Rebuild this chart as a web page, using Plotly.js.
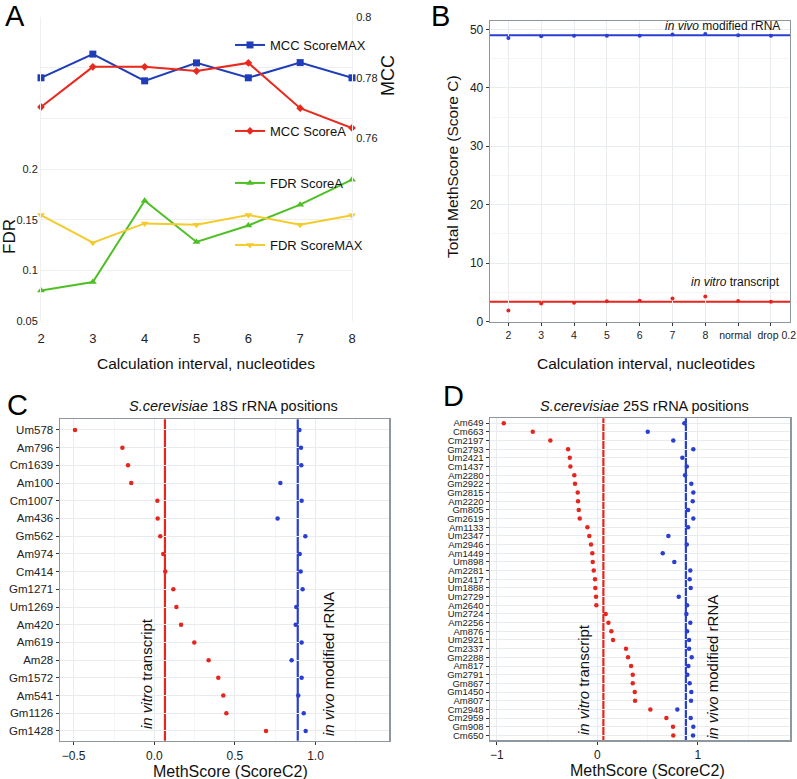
<!DOCTYPE html>
<html>
<head>
<meta charset="utf-8">
<script src="https://cdn.plot.ly/plotly-3.0.1.min.js"></script>
<style>
  html, body { margin: 0; padding: 0; background: #fff; }
  #chart { width: 797px; height: 779px; }
</style>
</head>
<body>
<div id="chart"></div>
<script>
// Panel A: interval sweep
const aIntervals = [2, 3, 4, 5, 6, 7, 8];
const mccScoreMax = [0.780, 0.7878, 0.779, 0.7849, 0.780, 0.785, 0.780];
const mccScoreA = [0.7704, 0.7836, 0.7836, 0.7822, 0.7849, 0.770, 0.7635];
const fdrScoreA = [0.080, 0.0885, 0.1687, 0.128, 0.1443, 0.1648, 0.1894];
const fdrScoreMax = [0.1546, 0.1273, 0.1463, 0.145, 0.1546, 0.145, 0.1543];

// Panel B: total MethScore
const bCategories = ["2", "3", "4", "5", "6", "7", "8", "normal", "drop 0.2"];
const bTickText = ["2", "3", "4", "5", "6", "7", "8", "normal\u00a0\u00a0", "\u00a0\u00a0\u00a0\u00a0drop 0.2"];
const bInVivo = [48.5, 48.8, 48.9, 48.9, 48.9, 49.1, 49.2, 49.0, 48.9];
const bInVitro = [1.9, 3.1, 3.25, 3.5, 3.6, 3.95, 4.3, 3.55, 3.4];
const bInVivoLevel = 49.0;
const bInVitroLevel = 3.42;

// Panel C: 18S rRNA positions
const cPositions = ["Um578", "Am796", "Cm1639", "Am100", "Cm1007", "Am436", "Gm562",
  "Am974", "Cm414", "Gm1271", "Um1269", "Am420", "Am619", "Am28", "Gm1572",
  "Am541", "Gm1126", "Gm1428"];
const cInVitro = [-0.492, -0.198, -0.163, -0.143, 0.019, 0.021, 0.037, 0.056, 0.068,
  0.118, 0.137, 0.166, 0.248, 0.337, 0.397, 0.428, 0.447, 0.693];
const cInVivo = [0.90, 0.91, 0.912, 0.782, 0.914, 0.765, 0.937, 0.902, 0.908,
  0.92, 0.881, 0.877, 0.914, 0.852, 0.914, 0.893, 0.927, 0.939];
const cInVitroLevel = 0.066;
const cInVivoLevel = 0.89;

// Panel D: 25S rRNA positions
const dPositions = ["Am649", "Cm663", "Cm2197", "Gm2793", "Um2421", "Cm1437", "Am2280",
  "Gm2922", "Gm2815", "Am2220", "Gm805", "Gm2619", "Am1133", "Um2347", "Am2946",
  "Am1449", "Um898", "Am2281", "Um2417", "Um1888", "Um2729", "Am2640", "Um2724",
  "Am2256", "Am876", "Um2921", "Cm2337", "Gm2288", "Am817", "Gm2791", "Gm867",
  "Gm1450", "Am807", "Cm2948", "Cm2959", "Gm908", "Cm650"];
const dInVitro = [-0.93, -0.642, -0.467, -0.291, -0.274, -0.268, -0.229, -0.222, -0.195,
  -0.192, -0.185, -0.175, -0.099, -0.080, -0.063, -0.050, -0.046, -0.036, -0.023,
  -0.020, -0.013, -0.010, 0.083, 0.110, 0.139, 0.156, 0.285, 0.305, 0.335, 0.352,
  0.352, 0.372, 0.375, 0.527, 0.686, 0.752, 0.755];
const dInVivo = [0.865, 0.501, 0.755, 0.954, 0.845, 0.889, 0.872, 0.934, 0.954, 0.948,
  0.902, 0.954, 0.902, 0.706, 0.889, 0.650, 0.765, 0.924, 0.918, 0.928, 0.809, 0.892,
  0.885, 0.924, 0.892, 0.912, 0.912, 0.938, 0.905, 0.895, 0.918, 0.934, 0.931, 0.795,
  0.928, 0.954, 0.951];
const dInVitroLevel = 0.06;
const dInVivoLevel = 0.88;

const W = 797, H = 779;
const FONT = "Liberation Sans, Arial, sans-serif";
const RED = "#e5261f", BLUE = "#2a3fd0";
const px = (v) => v / W;
const py = (v) => 1 - v / H;

const traces = [
  {
    x: aIntervals, y: mccScoreMax, xaxis: "x", yaxis: "y2", name: "MCC ScoreMAX",
    mode: "lines+markers", line: { color: "#1f3db8", width: 2 },
    marker: { symbol: "square", size: 7, color: "#1f3db8" }, legend: "legend", cliponaxis: false
  },
  {
    x: aIntervals, y: mccScoreA, xaxis: "x", yaxis: "y2", name: "MCC ScoreA",
    mode: "lines+markers", line: { color: "#e8291d", width: 2 },
    marker: { symbol: "diamond", size: 6, color: "#e8291d" }, legend: "legend2", cliponaxis: false
  },
  {
    x: aIntervals, y: fdrScoreA, xaxis: "x", yaxis: "y", name: "FDR ScoreA",
    mode: "lines+markers", line: { color: "#4fbf26", width: 2 },
    marker: { symbol: "triangle-up", size: 7, color: "#4fbf26" }, legend: "legend3", cliponaxis: false
  },
  {
    x: aIntervals, y: fdrScoreMax, xaxis: "x", yaxis: "y", name: "FDR ScoreMAX",
    mode: "lines+markers", line: { color: "#f5cb2c", width: 2 },
    marker: { symbol: "triangle-down", size: 7, color: "#f5cb2c" }, legend: "legend4", cliponaxis: false
  },
  {
    x: bCategories, y: bInVivo, xaxis: "x2", yaxis: "y3", mode: "markers",
    marker: { size: 4, color: BLUE }, showlegend: false
  },
  {
    x: bCategories, y: bInVitro, xaxis: "x2", yaxis: "y3", mode: "markers",
    marker: { size: 4, color: RED }, showlegend: false
  },
  {
    x: cInVitro, y: cPositions, xaxis: "x3", yaxis: "y4", mode: "markers",
    marker: { size: 4.5, color: RED }, showlegend: false
  },
  {
    x: cInVivo, y: cPositions, xaxis: "x3", yaxis: "y4", mode: "markers",
    marker: { size: 4.5, color: BLUE }, showlegend: false
  },
  {
    x: dInVitro, y: dPositions, xaxis: "x4", yaxis: "y5", mode: "markers",
    marker: { size: 4.5, color: RED }, showlegend: false
  },
  {
    x: dInVivo, y: dPositions, xaxis: "x4", yaxis: "y5", mode: "markers",
    marker: { size: 4.5, color: BLUE }, showlegend: false
  }
];

function legendAt(x, y) {
  return {
    x: px(x), y: py(y), xanchor: "left", yanchor: "middle",
    bgcolor: "rgba(0,0,0,0)", borderwidth: 0,
    font: { family: FONT, size: 13, color: "#111" },
    itemwidth: 30, tracegroupgap: 0
  };
}

const gridA = "#efefef";
const gridB = "#e9ecef";
const frame = "#8e979e";

const tickFont = { family: FONT, size: 12, color: "#222" };

const layout = {
  width: W, height: H,
  margin: { l: 0, r: 0, t: 0, b: 0 },
  paper_bgcolor: "#fff", plot_bgcolor: "rgba(0,0,0,0)",
  font: { family: FONT, color: "#111" },
  showlegend: true,
  legend: legendAt(230, 45),
  legend2: legendAt(230, 131),
  legend3: legendAt(230, 183),
  legend4: legendAt(230, 245),

  // Panel A
  xaxis: {
    domain: [px(41), px(352)], anchor: "y", range: [2, 8],
    tickvals: aIntervals, showgrid: false, zeroline: false, showline: false,
    ticks: "", ticklabelstandoff: 8, tickfont: { family: FONT, size: 13, color: "#222" }
  },
  yaxis: {
    domain: [py(321), py(17)], anchor: "x", range: [0.05, 0.35],
    tickvals: [0.05, 0.1, 0.15, 0.2, 0.25, 0.3, 0.35],
    ticktext: ["0.05", "0.1", "0.15", "0.2", "", "", ""],
    showgrid: true, gridcolor: gridA, gridwidth: 1, zeroline: false,
    showline: true, linecolor: gridA, linewidth: 1, ticks: "",
    tickfont: { family: FONT, size: 11, color: "#222" }
  },
  yaxis2: {
    overlaying: "y", side: "right", anchor: "x", range: [0.7, 0.8],
    tickvals: [0.76, 0.78, 0.8], ticktext: ["0.76", "0.78", "0.8"],
    showgrid: false, zeroline: false, showline: true, linecolor: gridA, ticks: "",
    ticklabelstandoff: 1,
    tickfont: { family: FONT, size: 11, color: "#222" }
  },

  // Panel B
  xaxis2: {
    domain: [px(490), px(790)], anchor: "y3", type: "category",
    categoryorder: "array", categoryarray: bCategories, range: [-0.56, 8.58],
    tickvals: bCategories, ticktext: bTickText, tickangle: 0,
    showgrid: true, gridcolor: gridB, zeroline: false,
    showline: true, mirror: true, linecolor: frame, linewidth: 1.3,
    ticks: "outside", ticklen: 3, tickcolor: "#333",
    tickfont: { family: FONT, size: 10.5, color: "#222" }
  },
  yaxis3: {
    domain: [py(322), py(21)], anchor: "x2", range: [-0.05, 51.42],
    tickvals: [0, 10, 20, 30, 40, 50], showgrid: true, gridcolor: gridB, zeroline: false,
    minor: { dtick: 5, tick0: 0, showgrid: true, gridcolor: "#f4f5f7" },
    showline: true, mirror: true, linecolor: frame, linewidth: 1.3,
    ticks: "outside", ticklen: 3, tickcolor: "#333", tickfont: tickFont
  },

  // Panel C
  xaxis3: {
    domain: [px(60), px(389)], anchor: "y4", range: [-0.585, 1.456],
    tickvals: [-0.5, 0, 0.5, 1], ticktext: ["\u22120.5", "0.0", "0.5", "1.0"],
    showgrid: true, gridcolor: gridB, zeroline: false,
    minor: { dtick: 0.25, tick0: 0, showgrid: true, gridcolor: "#f4f5f7" },
    showline: true, mirror: true, linecolor: frame, linewidth: 1.5,
    ticks: "outside", ticklen: 3, tickcolor: "#333", tickfont: tickFont
  },
  yaxis4: {
    domain: [py(740.7), py(419.3)], anchor: "x3", type: "category",
    categoryorder: "array", categoryarray: cPositions, range: [17.55, -0.6],
    tickvals: cPositions,
    showgrid: true, gridcolor: gridB, zeroline: false,
    showline: true, mirror: true, linecolor: frame, linewidth: 1.5,
    ticks: "outside", ticklen: 3, tickcolor: "#333",
    tickfont: { family: FONT, size: 11.5, color: "#222" }
  },

  // Panel D
  xaxis4: {
    domain: [px(490), px(790)], anchor: "y5", range: [-1.067, 1.915],
    tickvals: [-1, 0, 1], ticktext: ["\u22121", "0", "1"],
    showgrid: true, gridcolor: gridB, zeroline: false,
    minor: { dtick: 0.5, tick0: 0, showgrid: true, gridcolor: "#f4f5f7" },
    showline: true, mirror: true, linecolor: frame, linewidth: 1.5,
    ticks: "outside", ticklen: 3, tickcolor: "#333", tickfont: tickFont
  },
  yaxis5: {
    domain: [py(740), py(418.3)], anchor: "x4", type: "category",
    categoryorder: "array", categoryarray: dPositions, range: [36.53, -0.56],
    tickvals: dPositions,
    showgrid: true, gridcolor: gridB, zeroline: false,
    showline: true, mirror: true, linecolor: frame, linewidth: 1.5,
    ticks: "outside", ticklen: 3, tickcolor: "#333",
    tickfont: { family: FONT, size: 9.5, color: "#222" }
  },

  shapes: [
    { type: "line", xref: "x2 domain", yref: "y3", x0: 0, x1: 1, y0: bInVivoLevel, y1: bInVivoLevel,
      line: { color: BLUE, width: 2 }, layer: "below" },
    { type: "line", xref: "x2 domain", yref: "y3", x0: 0, x1: 1, y0: bInVitroLevel, y1: bInVitroLevel,
      line: { color: RED, width: 2 }, layer: "below" },
    { type: "line", xref: "x3", yref: "y4 domain", x0: cInVitroLevel, x1: cInVitroLevel, y0: 0, y1: 1,
      line: { color: RED, width: 2.2 }, layer: "below" },
    { type: "line", xref: "x3", yref: "y4 domain", x0: cInVivoLevel, x1: cInVivoLevel, y0: 0, y1: 1,
      line: { color: BLUE, width: 2.2 }, layer: "below" },
    { type: "line", xref: "x4", yref: "y5 domain", x0: dInVitroLevel, x1: dInVitroLevel, y0: 0, y1: 1,
      line: { color: RED, width: 2.2 }, layer: "below" },
    { type: "line", xref: "x4", yref: "y5 domain", x0: dInVivoLevel, x1: dInVivoLevel, y0: 0, y1: 1,
      line: { color: BLUE, width: 2.2 }, layer: "below" }
  ],

  annotations: []
};

function note(text, x, y, opts) {
  layout.annotations.push(Object.assign({
    text: text, x: px(x), y: py(y), xref: "paper", yref: "paper",
    showarrow: false, xanchor: "center", yanchor: "middle",
    font: { family: FONT, size: 15, color: "#111" }
  }, opts || {}));
}

// panel letters
const letterFont = { family: FONT, size: 29, color: "#000" };
note("A", 15, 16, { font: letterFont });
note("B", 440, 16, { font: letterFont });
note("C", 17, 405, { font: letterFont });
note("D", 453, 396, { font: letterFont });

// panel A axis titles
note("Calculation interval, nucleotides", 206, 363, { font: { family: FONT, size: 15.5, color: "#111" } });
note("FDR", 10, 237, { textangle: -90, font: { family: FONT, size: 17, color: "#111" } });
note("MCC", 388, 76, { textangle: -90, font: { family: FONT, size: 18, color: "#111" } });

// panel B
note("Calculation interval, nucleotides", 646, 363, { font: { family: FONT, size: 15.5, color: "#111" } });
note("Total MethScore (Score C)", 452, 167, { textangle: -90, font: { family: FONT, size: 15.5, color: "#111" } });
note("<i>in vivo</i> modified rRNA", 782, 26, { xanchor: "right", font: { family: FONT, size: 12, color: "#111" } });
note("<i>in vitro</i> transcript", 782, 282, { xanchor: "right", font: { family: FONT, size: 12, color: "#111" } });

// panel C
note("<i>S.cerevisiae</i> 18S rRNA positions", 234, 406, { font: { family: FONT, size: 14.5, color: "#111" } });
note("MethScore (ScoreC2)", 230, 771, { font: { family: FONT, size: 16, color: "#111" } });
note("<i>in vitro</i> transcript", 146, 674, { textangle: -90, font: { family: FONT, size: 15, color: "#111" } });
note("<i>in vivo</i> modified rRNA", 328, 664, { textangle: -90, font: { family: FONT, size: 15, color: "#111" } });

// panel D
note("<i>S.cerevisiae</i> 25S rRNA positions", 644, 406, { font: { family: FONT, size: 14.5, color: "#111" } });
note("MethScore (ScoreC2)", 647, 770, { font: { family: FONT, size: 16, color: "#111" } });
note("<i>in vitro</i> transcript", 583, 680, { textangle: -90, font: { family: FONT, size: 15, color: "#111" } });
note("<i>in vivo</i> modified rRNA", 712, 667, { textangle: -90, font: { family: FONT, size: 15, color: "#111" } });

Plotly.newPlot("chart", traces, layout, { staticPlot: true, displayModeBar: false });
</script>
</body>
</html>
